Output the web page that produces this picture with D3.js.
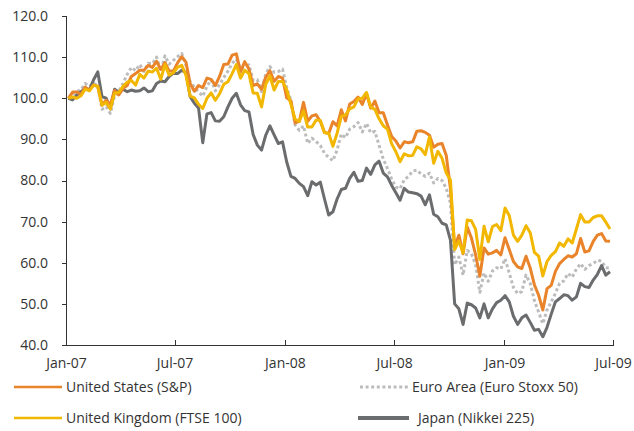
<!DOCTYPE html>
<html>
<head>
<meta charset="utf-8">
<script src="https://cdn.jsdelivr.net/npm/d3@7"></script>
<style>
    body { margin: 0; background: #fff; }
    .axis text { font-family: "Open Sans", sans-serif; font-size: 14px; fill: #333; }
    .axis path, .axis line { stroke: #333; stroke-width: 1; shape-rendering: crispEdges; }
    .legendText { font-family: "Open Sans", sans-serif; font-size: 14px; fill: #333; }
</style>
</head>
<body>
<script>
//weekly index values, first week of Jan-07 = 100
var firstWeek = "2007-01-05";

var usData = [100, 101.5, 101.5, 100.9, 102.7, 102.0, 103.2, 102.9, 98.4, 99.5, 98.4, 101.9, 100.8, 102.4, 103.1, 105.3, 106.0, 106.8, 106.8, 108.0, 107.5, 109.0, 107.0, 108.7, 106.6, 106.6, 108.6, 110.1, 108.8, 103.5, 101.7, 103.1, 102.6, 104.9, 104.6, 103.1, 105.3, 108.2, 108.3, 110.5, 110.8, 106.4, 108.9, 107.1, 103.1, 103.5, 102.2, 105.1, 106.7, 104.1, 105.3, 104.9,
    100.1, 99.4, 94.0, 94.4, 99.0, 94.4, 95.7, 96.0, 94.4, 91.7, 91.4, 94.3, 93.3, 97.2, 94.5, 98.6, 99.2, 100.3, 98.5, 101.1, 97.6, 99.3, 96.5, 96.5, 93.5, 90.7, 89.6, 87.9, 89.4, 89.2, 89.4, 92.0, 92.1, 91.7, 91.0, 88.1, 88.8, 89.0, 86.1, 78.0, 63.8, 66.7, 62.2, 68.7, 66.0, 61.9, 56.7, 63.6, 62.1, 62.4, 63.0, 61.9,
    66.1, 63.2, 60.3, 59.0, 58.6, 61.6, 58.7, 54.6, 52.1, 48.5, 53.7, 54.5, 57.9, 59.8, 60.8, 61.7, 61.4, 62.2, 65.9, 62.6, 62.9, 65.2, 66.7, 67.1, 65.3, 65.2];

var ukData = [100.0, 100.3, 100.0, 100.6, 102.2, 101.8, 103.2, 102.9, 98.3, 99.0, 97.4, 101.2, 101.4, 102.9, 103.9, 104.3, 103.2, 105.8, 104.9, 106.6, 106.4, 107.3, 104.6, 108.2, 105.6, 106.2, 107.5, 108.0, 105.6, 100.5, 100.1, 98.5, 97.5, 100.0, 101.3, 99.5, 101.1, 103.4, 104.0, 106.0, 108.2, 104.9, 106.8, 106.0, 101.3, 101.2, 97.9, 103.4, 105.4, 102.0, 104.1, 104.1,
    102.1, 98.5, 94.9, 94.4, 96.9, 93.0, 93.0, 94.7, 94.6, 91.6, 91.5, 88.3, 91.5, 95.6, 95.9, 97.4, 97.9, 99.9, 100.0, 101.4, 97.9, 97.3, 95.0, 93.3, 92.5, 88.9, 87.0, 84.6, 86.5, 86.0, 86.1, 88.2, 87.7, 86.3, 90.6, 84.2, 87.1, 85.4, 81.8, 80.1, 63.2, 65.3, 62.4, 70.4, 70.2, 68.1, 60.8, 68.9, 65.1, 68.8, 69.3, 67.8,
    73.3, 71.5, 66.7, 65.2, 66.7, 69.0, 67.3, 62.5, 61.6, 56.8, 60.3, 61.8, 62.7, 64.8, 64.0, 65.8, 64.8, 68.2, 71.7, 69.9, 69.9, 71.0, 71.4, 71.4, 69.9, 68.2];

var euroData = [100, 101.0, 101.6, 102.1, 103.6, 102.9, 103.7, 103.0, 97.3, 98.0, 96.3, 100.6, 101.7, 103.6, 105.8, 107.5, 106.7, 108.2, 106.5, 108.5, 108.4, 110.0, 106.7, 110.3, 108.3, 109.2, 110.1, 110.9, 108.0, 104.0, 102.7, 101.5, 100.5, 102.9, 104.5, 101.8, 103.3, 105.0, 106.6, 108.5, 109.5, 107.2, 107.6, 108.1, 104.4, 104.5, 101.6, 105.9, 107.7, 106.3, 106.5, 107.1,
    102.6, 99.5, 93.5, 92.2, 93.3, 89.0, 90.3, 89.5, 88.5, 86.6, 85.6, 84.8, 87.4, 91.3, 90.4, 92.5, 93.1, 94.1, 91.8, 93.9, 91.6, 91.9, 88.6, 85.2, 82.9, 80.3, 78.4, 78.0, 80.2, 81.0, 82.3, 82.5, 81.6, 81.0, 81.8, 79.4, 80.5, 80.0, 78.1, 74.5, 59.5, 61.4, 57.0, 63.0, 62.2, 59.5, 52.8, 57.5, 55.5, 58.0, 58.8, 58.5,
    61.0, 57.5, 54.0, 52.5, 53.0, 57.0, 55.0, 50.8, 48.0, 45.2, 48.5, 50.5, 52.6, 55.0, 55.6, 57.4, 56.5, 58.5, 59.8, 58.4, 59.3, 59.8, 60.6, 60.4, 58.8, 58.7];

var japanData = [100, 99.6, 100.8, 101.6, 102.4, 102.0, 104.5, 106.4, 100.4, 100.0, 97.6, 102.2, 101.4, 102.2, 101.6, 102.0, 101.7, 101.8, 102.5, 101.6, 101.8, 103.6, 104.2, 104.0, 105.3, 106.1, 106.0, 106.8, 106.2, 100.4, 98.8, 97.6, 89.2, 96.2, 96.5, 94.5, 94.4, 95.5, 97.9, 100.0, 101.2, 98.4, 97.0, 96.7, 91.2, 88.6, 87.4, 91.0, 93.3, 91.1, 89.0, 89.4,
    84.5, 81.0, 80.5, 79.3, 78.5, 76.3, 79.7, 78.9, 79.6, 75.5, 71.6, 72.4, 75.5, 77.8, 78.1, 80.5, 82.0, 79.8, 80.0, 83.0, 81.5, 83.8, 84.7, 81.8, 80.9, 78.8, 77.0, 75.2, 78.1, 77.2, 77.0, 76.8, 76.2, 74.1, 76.5, 71.8, 71.2, 69.6, 69.2, 65.5, 50.0, 48.8, 45.0, 50.2, 49.8, 49.0, 46.6, 50.0, 46.6, 48.8, 50.3, 50.9,
    52.0, 50.5, 47.0, 45.0, 46.6, 47.3, 45.5, 43.6, 43.8, 42.0, 44.3, 47.5, 50.5, 51.3, 52.2, 52.0, 50.9, 51.7, 55.0, 54.2, 54.0, 55.8, 57.2, 59.3, 57.0, 57.8];

var seriesNames = ["United States (S&P)", "Euro Area (Euro Stoxx 50)", "United Kingdom (FTSE 100)", "Japan (Nikkei 225)"];
var yTicks = [40, 50, 60, 70, 80, 90, 100, 110, 120];
var xTicks = ["2007-01-01", "2007-07-01", "2008-01-01", "2008-07-01", "2009-01-01", "2009-07-01"];

window.onload = setChart();

function setChart(){
    //chart frame dimensions
    var width = 634,
        height = 431,
        left = 66,
        right = 613,
        top = 16,
        bottom = 345;

    var svg = d3.select("body")
        .append("svg")
        .attr("width", width)
        .attr("height", height);

    var parse = d3.timeParse("%Y-%m-%d");
    var start = parse(firstWeek);
    var tickDates = xTicks.map(parse);

    var xScale = d3.scaleTime()
        .domain([tickDates[0], tickDates[tickDates.length - 1]])
        .range([left, right]);

    var yScale = d3.scaleLinear()
        .domain([40, 120])
        .range([bottom, top]);

    //one date per weekly value
    function weekly(values){
        return values.map(function(v, i){
            return {date: d3.timeDay.offset(start, 7 * i), value: v};
        });
    }

    var line = d3.line()
        .x(function(d){ return xScale(d.date); })
        .y(function(d){ return yScale(d.value); });

    var series = [
        {name: seriesNames[1], data: euroData, color: "#bcbcbc", width: 3, dash: "3,2.6"},
        {name: seriesNames[3], data: japanData, color: "#6b6c6e", width: 3, dash: null},
        {name: seriesNames[0], data: usData, color: "#e9842b", width: 3, dash: null},
        {name: seriesNames[2], data: ukData, color: "#f2b700", width: 3, dash: null}
    ];

    series.forEach(function(s){
        svg.append("path")
            .datum(weekly(s.data))
            .attr("fill", "none")
            .attr("stroke", s.color)
            .attr("stroke-width", s.width)
            .attr("stroke-linejoin", "round")
            .attr("stroke-dasharray", s.dash)
            .attr("d", line);
    });

    //axes
    var yAxis = d3.axisLeft(yScale)
        .tickValues(yTicks)
        .tickSize(4)
        .tickPadding(14)
        .tickFormat(d3.format(".1f"));

    svg.append("g")
        .attr("class", "axis")
        .attr("transform", "translate(" + left + ",0)")
        .call(yAxis)
        .call(function(g){ g.select(".domain").attr("d", "M0," + top + "V" + bottom); });

    var xAxis = d3.axisBottom(xScale)
        .tickValues(tickDates)
        .tickSize(-5)
        .tickPadding(13)
        .tickFormat(d3.timeFormat("%b-%y"));

    svg.append("g")
        .attr("class", "axis")
        .attr("transform", "translate(0," + bottom + ")")
        .call(xAxis)
        .call(function(g){ g.select(".domain").attr("d", "M" + left + ",0H" + (right + 1)); });

    //legend
    var legendItems = [
        {name: seriesNames[0], color: "#e9842b", width: 2.5, dash: null, x: 14, y: 387, len: 48},
        {name: seriesNames[1], color: "#bcbcbc", width: 3, dash: "3,2.6", x: 360, y: 387, len: 48},
        {name: seriesNames[2], color: "#f2b700", width: 2.5, dash: null, x: 14, y: 418, len: 48},
        {name: seriesNames[3], color: "#6b6c6e", width: 4, dash: null, x: 358, y: 418, len: 51}
    ];

    var legend = svg.selectAll(".legend")
        .data(legendItems)
        .enter()
        .append("g")
        .attr("class", "legend");

    legend.append("line")
        .attr("x1", function(d){ return d.x; })
        .attr("x2", function(d){ return d.x + d.len; })
        .attr("y1", function(d){ return d.y; })
        .attr("y2", function(d){ return d.y; })
        .attr("stroke", function(d){ return d.color; })
        .attr("stroke-width", function(d){ return d.width; })
        .attr("stroke-dasharray", function(d){ return d.dash; });

    legend.append("text")
        .attr("class", "legendText")
        .attr("x", function(d){ return d.x + d.len + (d.len > 48 ? 9 : 4); })
        .attr("y", function(d){ return d.y; })
        .attr("dy", "0.35em")
        .text(function(d){ return d.name; });
};
</script>
</body>
</html>
